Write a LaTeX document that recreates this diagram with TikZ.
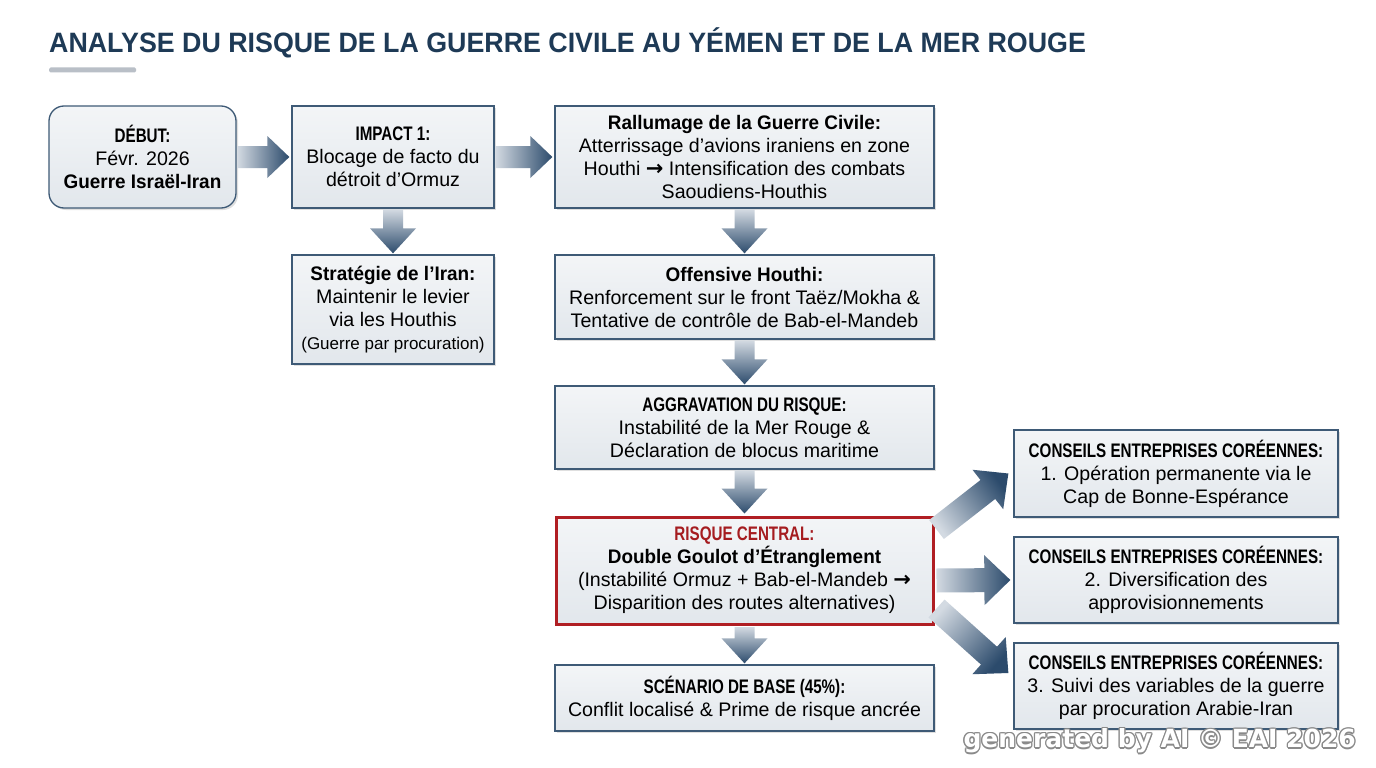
\documentclass[tikz,border=0pt]{standalone}
\usepackage{fontspec}
\setmainfont{Liberation Sans}
\newfontfamily\hb{Liberation Sans}[FakeStretch=0.775]
\newfontfamily\hbl{Liberation Sans}[FakeStretch=0.965]
\newfontfamily\ttl{Liberation Sans}[FakeStretch=0.957]
\newfontfamily\wmfont{DejaVu Sans}
\newcommand\rarr{{\wmfont\bfseries\fontsize{21}{23}\selectfont →}}
\usetikzlibrary{calc,shadows}
\definecolor{titleblue}{HTML}{1E3A56}
\definecolor{bargray}{HTML}{B9BFC7}
\definecolor{boxborder}{HTML}{3E5A76}
\definecolor{boxtop}{HTML}{F3F5F7}
\definecolor{boxbot}{HTML}{E2E7EC}
\definecolor{riskred}{HTML}{B01E23}
\definecolor{riskredtext}{HTML}{A51C20}
\definecolor{arrlight}{HTML}{D3DAE2}
\definecolor{arrdark}{HTML}{2C4B6C}
\definecolor{wmgray}{HTML}{8A8A8A}
\newcommand\blockarr[6]{%
  \coordinate (ba-c) at ($(#2)!#5!(#1)$);
  \shade[top color=arrlight, bottom color=arrdark, shading angle=#6]
    ($(#1)!#3!90:(#2)$) -- ($(ba-c)!#3!90:(#2)$) -- ($(ba-c)!#4!90:(#2)$) -- (#2)
    -- ($(ba-c)!#4!-90:(#2)$) -- ($(ba-c)!#3!-90:(#2)$) -- ($(#1)!#3!-90:(#2)$) -- cycle;
}
\begin{document}
\begin{tikzpicture}[x=1pt,y=-1pt,
  box/.style={draw=boxborder, line width=1.3pt, top color=boxtop, bottom color=boxbot,
    inner sep=0pt, align=center, text=black,
    font=\fontsize{19.6}{23}\selectfont,
    drop shadow={opacity=0.25, shadow xshift=2pt, shadow yshift=-2pt}},
  riskbox/.style={box, draw=riskred, line width=3pt},
  wmark/.style={font=\wmfont\bfseries\fontsize{25}{25}\selectfont, inner sep=0pt, anchor=east}
]
\useasboundingbox (0,0) rectangle (1376,768);
\fill[white] (0,0) rectangle (1376,768);

% title
\node[anchor=base west, inner sep=0pt, text=titleblue,
  font=\ttl\bfseries\fontsize{28}{28}\selectfont] (title) at (49,53)
  {ANALYSE DU RISQUE DE LA GUERRE CIVILE AU YÉMEN ET DE LA MER ROUGE};
\fill[bargray, rounded corners=1.5pt] (49,67.5) rectangle (136,72.5);

% boxes
\node[box, rounded corners=15pt, minimum width=187pt, minimum height=102pt] (debut) at (142.5,157)
  {{\hb\bfseries DÉBUT:}\\Févr. 2026\\{\hbl\bfseries Guerre Israël-Iran}};
\node[box, minimum width=202pt, minimum height=102pt] (impact) at (393,157)
  {{\hb\bfseries IMPACT 1:}\\Blocage de facto du\\détroit d’Ormuz};
\node[box, minimum width=379pt, minimum height=102pt] (rallumage) at (744.5,157)
  {{\hbl\bfseries Rallumage de la Guerre Civile:}\\Atterrissage d’avions iraniens en zone\\Houthi \rarr\ Intensification des combats\\Saoudiens-Houthis};
\node[box, minimum width=202pt, minimum height=109pt] (strategie) at (393,309.5)
  {{\hbl\bfseries Stratégie de l’Iran:}\\Maintenir le levier\\via les Houthis\\{\fontsize{17}{23}\selectfont(Guerre par procuration)}};
\node[box, minimum width=379pt, minimum height=84pt] (offensive) at (744.5,297)
  {{\hbl\bfseries Offensive Houthi:}\\Renforcement sur le front Taëz/Mokha \&\\Tentative de contrôle de Bab-el-Mandeb};
\node[box, minimum width=379pt, minimum height=83pt] (aggravation) at (744.5,427.5)
  {{\hb\bfseries AGGRAVATION DU RISQUE:}\\Instabilité de la Mer Rouge \&\\Déclaration de blocus maritime};
\node[riskbox, minimum width=377pt, minimum height=107pt] (risque) at (744.5,570.5)
  {{\hb\bfseries\color{riskredtext}RISQUE CENTRAL:}\\{\hbl\bfseries Double Goulot d’Étranglement}\\(Instabilité Ormuz + Bab-el-Mandeb \rarr\\Disparition des routes alternatives)};
\node[box, minimum width=379pt, minimum height=66pt] (scenario) at (744.5,698)
  {{\hb\bfseries SCÉNARIO DE BASE (45\%):}\\Conflit localisé \& Prime de risque ancrée};
\node[box, minimum width=324pt, minimum height=87pt] (c1) at (1176,473.5)
  {{\hb\bfseries CONSEILS ENTREPRISES CORÉENNES:}\\1. Opération permanente via le\\Cap de Bonne-Espérance};
\node[box, minimum width=324pt, minimum height=86pt] (c2) at (1176,580)
  {{\hb\bfseries CONSEILS ENTREPRISES CORÉENNES:}\\2. Diversification des\\approvisionnements};
\node[box, minimum width=324pt, minimum height=86pt] (c3) at (1176,686)
  {{\hb\bfseries CONSEILS ENTREPRISES CORÉENNES:}\\3. Suivi des variables de la guerre\\par procuration Arabie-Iran};

% connector endpoints
\coordinate (a1s) at ($(debut.east)+(0.7,0)$);
\coordinate (a1e) at ($(impact.west)+(-2,0)$);
\coordinate (a2s) at ($(impact.east)+(0.7,0)$);
\coordinate (a2e) at ($(rallumage.west)+(-2,0)$);
\coordinate (a3s) at ($(impact.south)+(0,0.7)$);
\coordinate (a3e) at ($(strategie.north)+(0,-1)$);
\coordinate (a4s) at ($(rallumage.south)+(0,0.7)$);
\coordinate (a4e) at ($(offensive.north)+(0,-1)$);
\coordinate (a5s) at ($(offensive.south)+(0,0.7)$);
\coordinate (a5e) at ($(aggravation.north)+(0,-1)$);
\coordinate (a6s) at ($(aggravation.south)+(0,0.7)$);
\coordinate (a6e) at ($(risque.north)+(0,-2)$);
\coordinate (a7s) at ($(risque.south)+(0,1.5)$);
\coordinate (a7e) at ($(scenario.north)+(0,-1)$);
\coordinate (d1s) at ($(risque.north east)+(2,14)$);
\coordinate (d1e) at ($(c1.west)+(-5,0)$);
\coordinate (d2s) at ($(risque.east)+(2,10)$);
\coordinate (d2e) at ($(c2.west)+(-3,0)$);
\coordinate (d3s) at ($(risque.south east)+(2,-17)$);
\coordinate (d3e) at ($(c3.west)+(-5,-13)$);

% arrows
\blockarr{a1s}{a1e}{11pt}{21pt}{22pt}{90}
\blockarr{a2s}{a2e}{11pt}{21pt}{22pt}{90}
\blockarr{a3s}{a3e}{10pt}{23pt}{25pt}{0}
\blockarr{a4s}{a4e}{10pt}{23pt}{25pt}{0}
\blockarr{a5s}{a5e}{10pt}{23pt}{25pt}{0}
\blockarr{a6s}{a6e}{10pt}{23pt}{25pt}{0}
\blockarr{a7s}{a7e}{10pt}{23pt}{25pt}{0}
\blockarr{d1s}{d1e}{12pt}{25pt}{26pt}{126}
\blockarr{d2s}{d2e}{12pt}{25pt}{26pt}{90}
\blockarr{d3s}{d3e}{12pt}{25pt}{26pt}{48}

% watermark
\coordinate (wmc) at (1356,741);
\foreach \dx/\dy [count=\i] in {-1.3/0,1.3/0,0/-1.3,0/1.3,-0.95/-0.95,0.95/0.95,-0.95/0.95,0.95/-0.95}
  \node[wmark, text=wmgray] (wm\i) at ($(wmc)+(\dx,\dy)$) {generated by AI © EAI 2026};
\node[wmark, text=white] (wm) at (wmc) {generated by AI © EAI 2026};
\end{tikzpicture}
\end{document}
